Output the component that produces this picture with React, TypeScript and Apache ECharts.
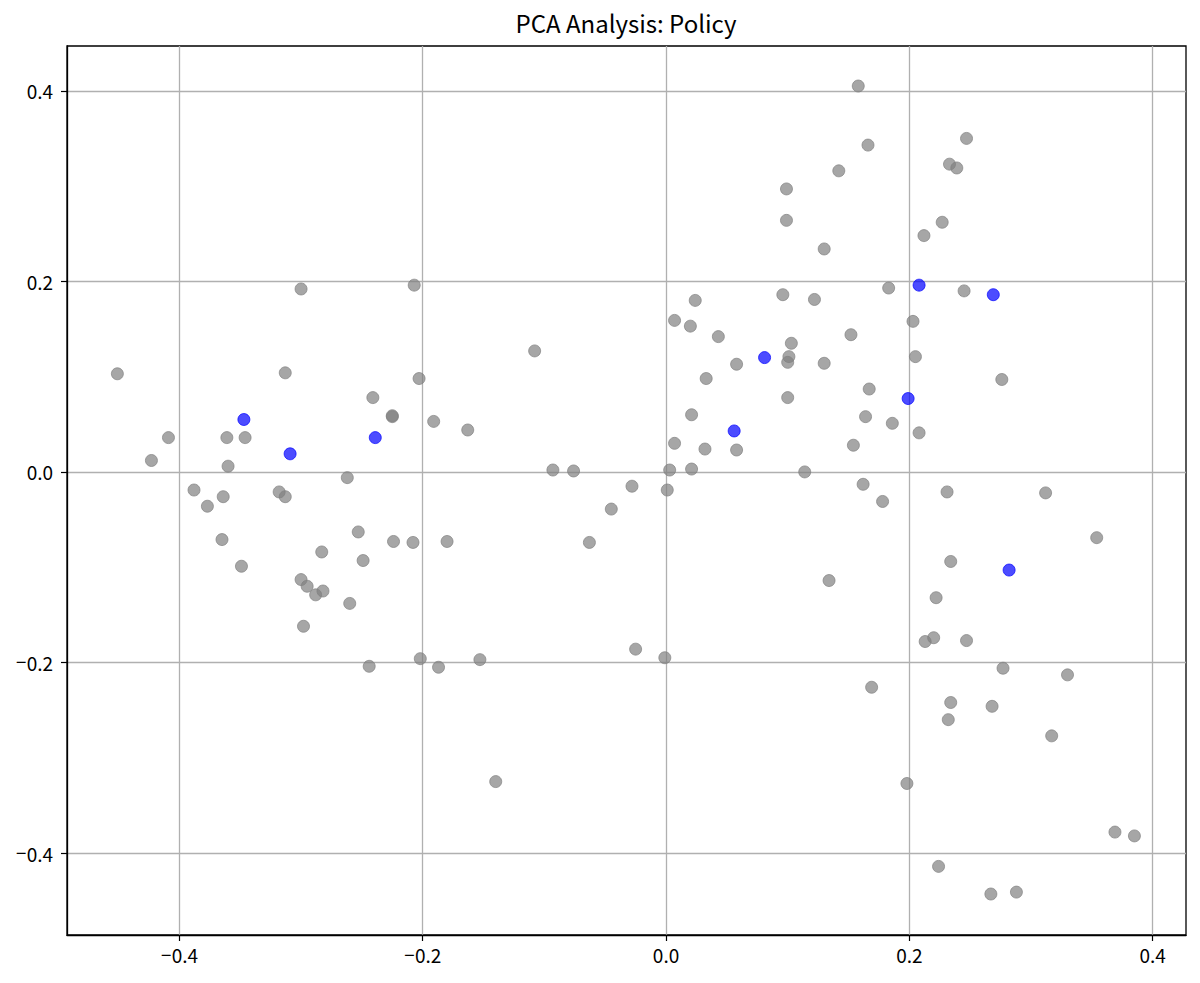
import React, { useEffect, useRef } from "react";
import * as echarts from "echarts";

const titleText = "PCA Analysis: Policy";

const xTicks = [-0.4, -0.2, 0.0, 0.2, 0.4];
const yTicks = [-0.4, -0.2, 0.0, 0.2, 0.4];

const otherX = [
  -0.451, -0.423, -0.409, -0.388, -0.377, -0.364, -0.365, -0.361, -0.36, -0.349,
  -0.346, -0.313, -0.3, -0.318, -0.313, -0.3, -0.295, -0.298, -0.288, -0.282,
  -0.283, -0.262, -0.26, -0.253, -0.249, -0.244, -0.241, -0.225, -0.225, -0.224,
  -0.207, -0.208, -0.203, -0.202, -0.191, -0.187, -0.18, -0.163, -0.153, -0.14,
  -0.108, -0.093, -0.076, -0.063, -0.045, -0.028, -0.025, -0.001, 0.001, 0.003,
  0.007, 0.007, 0.02, 0.021, 0.021, 0.024, 0.032, 0.033, 0.043, 0.058,
  0.058, 0.099, 0.096, 0.099, 0.103, 0.101, 0.1, 0.1, 0.114, 0.122,
  0.13, 0.13, 0.134, 0.142, 0.152, 0.154, 0.158, 0.162, 0.164, 0.166,
  0.167, 0.169, 0.178, 0.183, 0.186, 0.198, 0.203, 0.205, 0.208, 0.212,
  0.213, 0.22, 0.222, 0.224, 0.227, 0.231, 0.233, 0.232, 0.234, 0.234,
  0.239, 0.245, 0.247, 0.247, 0.268, 0.267, 0.276, 0.277, 0.288, 0.312,
  0.317, 0.33, 0.354, 0.369, 0.385,
];
const otherY = [
  0.103, 0.012, 0.036, -0.019, -0.036, -0.026, -0.071, 0.036, 0.006, -0.099,
  0.036, 0.104, 0.192, -0.021, -0.026, -0.113, -0.12, -0.162, -0.129, -0.125,
  -0.084, -0.006, -0.138, -0.063, -0.093, -0.204, 0.078, 0.058, 0.059, -0.073,
  0.196, -0.074, 0.098, -0.196, 0.053, -0.205, -0.073, 0.044, -0.197, -0.325,
  0.127, 0.002, 0.001, -0.074, -0.039, -0.015, -0.186, -0.195, -0.019, 0.002,
  0.159, 0.03, 0.153, 0.06, 0.003, 0.18, 0.024, 0.098, 0.142, 0.113,
  0.023, 0.297, 0.186, 0.264, 0.135, 0.121, 0.115, 0.078, 0.0, 0.181,
  0.234, 0.114, -0.114, 0.316, 0.144, 0.028, 0.405, -0.013, 0.058, 0.343,
  0.087, -0.226, -0.031, 0.193, 0.051, -0.327, 0.158, 0.121, 0.041, 0.248,
  -0.178, -0.174, -0.132, -0.414, 0.262, -0.021, 0.323, -0.26, -0.094, -0.242,
  0.319, 0.19, 0.35, -0.177, -0.246, -0.443, 0.097, -0.206, -0.441, -0.022,
  -0.277, -0.213, -0.069, -0.378, -0.382,
];

const policyX = [-0.347, -0.309, -0.239, 0.056, 0.081, 0.199, 0.208, 0.269, 0.282];
const policyY = [0.055, 0.019, 0.036, 0.043, 0.12, 0.077, 0.196, 0.186, -0.103];

const FONT = "'Noto Sans CJK JP', 'Noto Sans', sans-serif";
const TICK_FONT_SIZE = 19;

const fmt = (v: number) => (v < 0 ? "{m|\u2212}" : "") + Math.abs(v).toFixed(1);

export default function App() {
  const ref = useRef<HTMLDivElement>(null);

  useEffect(() => {
    if (!ref.current) return;
    const chart = echarts.init(ref.current, null, { renderer: "svg" });
    const otherData = otherX.map((x, i) => [x, otherY[i]]);
    const policyData = policyX.map((x, i) => [x, policyY[i]]);

    const labelCommon = {
      color: "#000",
      fontSize: TICK_FONT_SIZE,
      fontFamily: FONT,
      formatter: fmt,
      rich: {
        m: { fontFamily: "'Noto Sans', sans-serif", fontSize: TICK_FONT_SIZE, color: "#000" },
      },
    };

    const axisCommon = {
      type: "value" as const,
      axisLine: { show: true, onZero: false, lineStyle: { color: "#000", width: 1.3 } },
      axisTick: { show: true, length: 6, lineStyle: { color: "#000", width: 1.2 } },
      splitLine: { show: true, lineStyle: { color: "#b0b0b0", width: 1.3 } },
    };

    chart.setOption({
      animation: false,
      backgroundColor: "#fff",
      title: {
        text: titleText,
        left: 621,
        top: 5,
        textAlign: "center",
        textStyle: { fontFamily: FONT, fontSize: 24, fontWeight: "normal", color: "#000" },
      },
      grid: {
        left: 67,
        right: 14,
        top: 46,
        bottom: 48,
        show: true,
        borderColor: "#000",
        borderWidth: 1.3,
        backgroundColor: "transparent",
      },
      xAxis: {
        ...axisCommon,
        min: -0.4924,
        max: 0.4274,
        axisTick: { ...axisCommon.axisTick, customValues: xTicks },
        axisLabel: { ...labelCommon, customValues: xTicks, margin: 10 },
      },
      yAxis: {
        ...axisCommon,
        min: -0.486,
        max: 0.447,
        axisTick: { ...axisCommon.axisTick, customValues: yTicks },
        axisLabel: { ...labelCommon, customValues: yTicks, margin: 14 },
      },
      series: [
        {
          name: "Other",
          type: "scatter",
          data: otherData,
          symbolSize: 12,
          itemStyle: {
            color: "rgba(128,128,128,0.7)",
            borderColor: "rgba(128,128,128,0.7)",
            borderWidth: 1,
            opacity: 1,
          },
          emphasis: { disabled: true },
        },
        {
          name: "Policy",
          type: "scatter",
          data: policyData,
          symbolSize: 12,
          itemStyle: {
            color: "rgba(0,0,255,0.7)",
            borderColor: "rgba(0,0,255,0.7)",
            borderWidth: 1,
            opacity: 1,
          },
          emphasis: { disabled: true },
        },
      ],
    });
    return () => chart.dispose();
  }, []);

  return (
    <div
      ref={ref}
      style={{ position: "fixed", left: 0, top: 0, width: 1200, height: 983, background: "#fff" }}
    />
  );
}
